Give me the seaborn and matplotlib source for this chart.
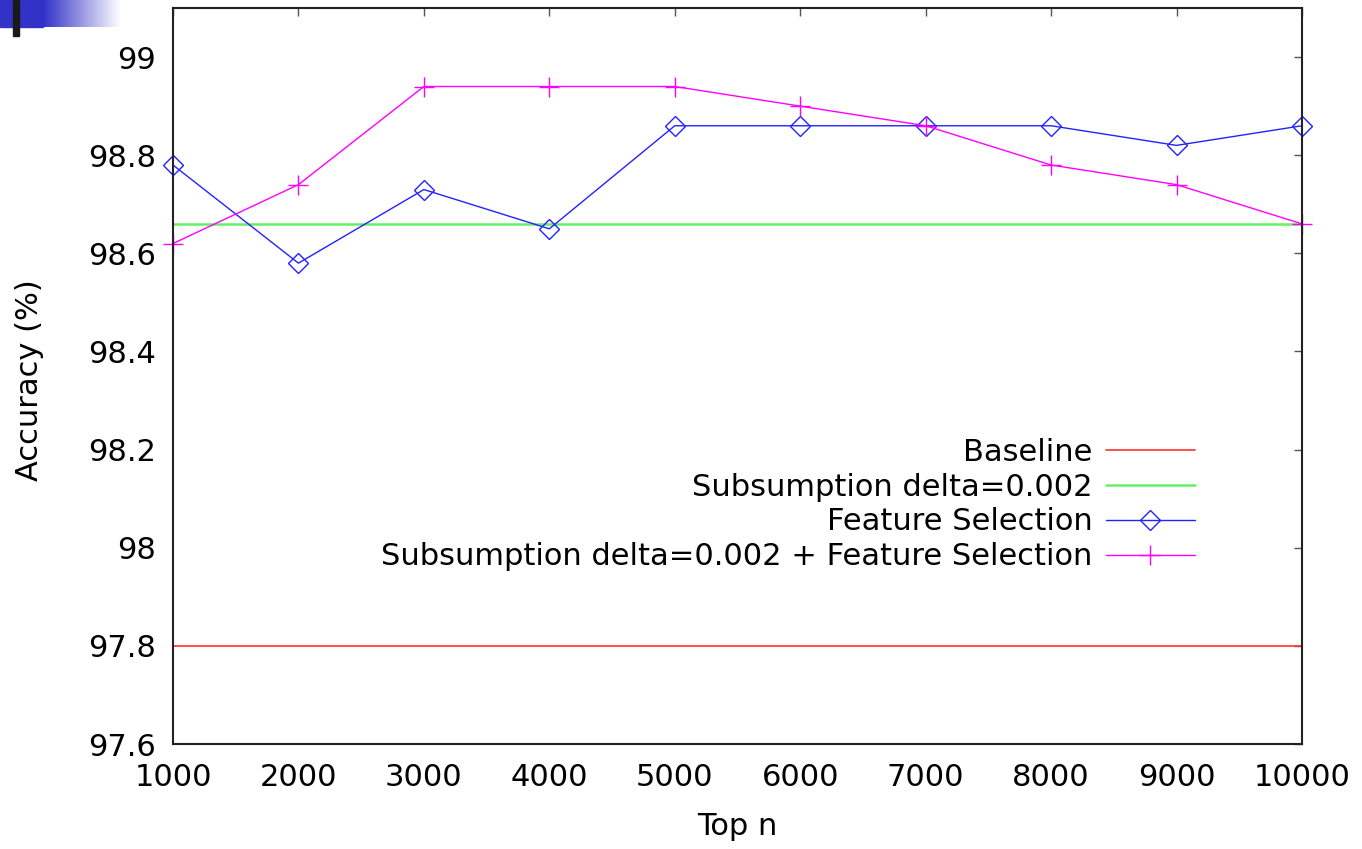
import numpy as np
import pandas as pd
import matplotlib
matplotlib.use("Agg")
import matplotlib.pyplot as plt
import seaborn as sns
from matplotlib.patches import Rectangle

sns.set_theme(style="white")
plt.rcParams['font.family'] = ['DejaVu Sans']
plt.rcParams['text.color'] = 'black'
plt.rcParams['axes.labelcolor'] = 'black'

# datos
top_n = [1000, 2000, 3000, 4000, 5000, 6000, 7000, 8000, 9000, 10000]
baseline = [97.8] * 10
subsumption = [98.66] * 10
feature_sel = [98.78, 98.58, 98.73, 98.65, 98.86, 98.86, 98.86, 98.86, 98.82, 98.86]
subs_feat = [98.62, 98.74, 98.94, 98.94, 98.94, 98.90, 98.86, 98.78, 98.74, 98.66]
y_ticks = [97.6, 97.8, 98, 98.2, 98.4, 98.6, 98.8, 99]
y_labels = ['97.6', '97.8', '98', '98.2', '98.4', '98.6', '98.8', '99']

df = pd.DataFrame({'top_n': top_n, 'baseline': baseline, 'subsumption': subsumption,
                   'feature_sel': feature_sel, 'subs_feat': subs_feat})

fig = plt.figure(figsize=(13.62, 8.49), dpi=100)
ax = fig.add_axes([173 / 1362, 105 / 849, 1129 / 1362, 736 / 849])

sns.lineplot(data=df, x='top_n', y='baseline', ax=ax, color='#ff3030', lw=1.2,
             label='Baseline')
sns.lineplot(data=df, x='top_n', y='subsumption', ax=ax, color='#66ee66', lw=1.8,
             label='Subsumption delta=0.002')
sns.lineplot(data=df, x='top_n', y='feature_sel', ax=ax, color='#2222ff', lw=1.0,
             marker='D', markersize=10, markerfacecolor='none', markeredgecolor='#2222ff',
             markeredgewidth=1.0, clip_on=False, label='Feature Selection')
sns.lineplot(data=df, x='top_n', y='subs_feat', ax=ax, color='#ff00ff', lw=1.0,
             marker='+', markersize=14, markeredgewidth=1.0, markeredgecolor='#ff00ff',
             clip_on=False, label='Subsumption delta=0.002 + Feature Selection')

ax.set_xlim(1000, 10000)
ax.set_ylim(97.6, 99.1)
ax.set_xticks(top_n)
ax.set_xticklabels([str(v) for v in top_n])
ax.set_yticks(y_ticks)
ax.set_yticklabels(y_labels)
ax.tick_params(direction='in', length=6, width=1, color='#555555', top=True, right=True,
               labelsize=22, labelcolor='black')
ax.tick_params(axis='y', pad=12)
ax.tick_params(axis='x', pad=14)
for s in ax.spines.values():
    s.set_color('#222222')
    s.set_linewidth(1.5)
ax.grid(False)

ax.set_xlabel('Top n', fontsize=22, labelpad=14)
ax.set_ylabel('Accuracy (%)', fontsize=22, va='center')
ax.yaxis.set_label_coords(-0.127, 0.495)

ax.legend(loc='upper right', bbox_to_anchor=(0.905, 0.416), frameon=False,
          markerfirst=False, fontsize=22, handlelength=2.9, handletextpad=0.45,
          labelspacing=0.19, borderpad=0, borderaxespad=0)

# decoracion de la esquina (plantilla de diapositiva)
fig.patches.append(Rectangle((0, 1 - 27 / 849), 43 / 1362, 27 / 849,
                             transform=fig.transFigure, color='#3232c8', zorder=1))
grad_ax = fig.add_axes([43 / 1362, 1 - 27 / 849, 78 / 1362, 27 / 849])
grad = np.linspace(0, 1, 256).reshape(1, -1)
grad_ax.imshow(grad, aspect='auto', cmap=matplotlib.colors.LinearSegmentedColormap.from_list(
    'g', ['#3232c8', '#ffffff']))
grad_ax.axis('off')
fig.patches.append(Rectangle((13 / 1362, 1 - 36 / 849), 6 / 1362, 36 / 849,
                             transform=fig.transFigure, color='#1a1a1a', zorder=3))

fig.savefig('out.png', dpi=100)
